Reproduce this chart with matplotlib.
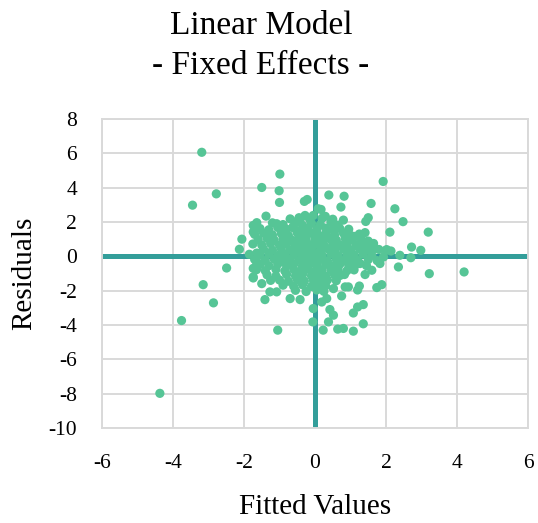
import matplotlib.pyplot as plt
import numpy as np

plt.rcParams['font.family'] = ['Liberation Serif', 'DejaVu Serif']

# scattered points away from the central cluster
fitted = [
    -4.37, -3.76, -3.19, -2.78, -3.45, -3.15, -2.86, -2.49, -2.13, -2.06,
    -1.74, -1.64, -1.50, -0.99, -1.01, -1.00, -1.38, -1.08, -0.30, -0.22,
    -1.74, -1.50, -1.25, -1.41, -1.27, -1.08, -0.70, -0.42, -0.05, -0.06,
    -1.05, -1.74, -1.74, -1.64, -1.64, -1.74,
    1.92, 0.39, 0.82, 0.73, 1.58, 2.25, 0.17, 0.80, 1.50, 1.43,
    2.48, 2.11, 3.19, 1.41, 1.11, 1.50, 1.46, 2.72, 2.98, 1.67,
    2.02, 2.14, 2.39, 2.70, 2.35, 3.22, 4.20, 1.88, 1.74, 1.25,
    1.20, 0.94, 0.85, 0.52, 0.75, 1.36, 1.20, 1.08, 1.36, 1.08,
    0.80, 0.64, 0.23, 0.38, 0.52, 0.42, 0.33, 0.19, 1.41, 1.60,
    1.27, 0.83, 1.83, 1.93, 2.00, -0.28, -0.42, 0.09, -0.62, -0.05,
    0.29,
]
residuals = [
    -7.98, -3.74, 6.06, 3.64, 2.98, -1.65, -2.71, -0.68, 0.41, 1.00,
    1.80, 0.19, 4.01, 4.79, 3.82, 3.14, 2.34, 1.90, 3.20, 3.31,
    -1.26, -1.59, -1.40, -2.52, -2.07, -2.07, -2.46, -2.52, -3.04, -3.82,
    -4.30, -0.70, -1.20, -0.37, 1.96, 1.42,
    4.36, 3.57, 3.50, 2.87, 3.08, 2.77, 2.73, 2.11, 2.25, 2.03,
    2.02, 1.41, 1.41, 1.38, 1.16, 0.89, 0.68, 0.54, 0.35, 0.45,
    0.39, 0.31, 0.06, -0.08, -0.62, -1.01, -0.91, -1.65, -1.82, -1.73,
    -1.96, -1.78, -1.78, -1.88, -2.31, -2.81, -2.95, -3.30, -3.93, -4.36,
    -4.20, -4.24, -4.30, -3.82, -3.43, -3.10, -2.46, -2.66, -1.06, -0.81,
    -0.42, -1.06, -0.42, -0.04, 0.35, 2.38, 2.09, 2.77, 1.72, 2.38,
    2.33,
]

# central cluster, row by row
fitted += [
    -0.70, -0.45, -0.15, 0.20, 0.50,
    -1.20, -0.90, -0.55, -0.35, -0.10, 0.15, 0.45, 0.65,
    -1.55, -1.30, -1.05, -0.80, -0.60, -0.40, -0.20, 0.05, 0.30, 0.50, 0.70, 0.95,
    -1.70, -1.45, -1.20, -0.95, -0.75, -0.50, -0.30, -0.10, 0.10, 0.30, 0.55, 0.80, 1.00, 1.25,
    -1.60, -1.35, -1.15, -0.90, -0.65, -0.45, -0.25, 0.00, 0.20, 0.40, 0.60, 0.85, 1.05, 1.30,
    -1.75, -1.50, -1.25, -1.00, -0.80, -0.55, -0.35, -0.15, 0.05, 0.25, 0.50, 0.70, 0.90, 1.15, 1.35, 1.65,
    -1.45, -1.20, -0.95, -0.70, -0.50, -0.30, -0.10, 0.15, 0.35, 0.55, 0.80, 1.00, 1.25, 1.45, 1.80,
    -1.85, -1.55, -1.30, -1.05, -0.85, -0.60, -0.40, -0.20, 0.00, 0.20, 0.45, 0.65, 0.90, 1.10, 1.35, 1.60,
    -1.70, -1.40, -1.15, -0.90, -0.70, -0.45, -0.25, -0.05, 0.15, 0.35, 0.60, 0.80, 1.00, 1.20, 1.50, 1.75,
    -1.55, -1.30, -1.05, -0.80, -0.60, -0.35, -0.15, 0.05, 0.30, 0.50, 0.70, 0.95, 1.15, 1.45,
    -1.65, -1.40, -1.10, -0.85, -0.60, -0.40, -0.20, 0.00, 0.20, 0.45, 0.65, 0.90, 1.10,
    -1.35, -1.10, -0.80, -0.55, -0.35, -0.10, 0.10, 0.30, 0.55, 0.70,
    -1.00, -0.75, -0.50, -0.30, -0.05, 0.15, 0.35, 0.60,
    -0.90, -0.60, -0.35, -0.10, 0.10, 0.30,
    -0.55, -0.25, 0.05, 0.25,
]
residuals += [
    2.18, 2.25, 2.15, 2.22, 2.16,
    1.95, 1.85, 2.00, 1.80, 1.92, 1.85, 1.98, 1.82,
    1.62, 1.55, 1.68, 1.58, 1.65, 1.52, 1.66, 1.57, 1.64, 1.55, 1.62, 1.58,
    1.28, 1.35, 1.25, 1.33, 1.22, 1.36, 1.27, 1.34, 1.24, 1.32, 1.26, 1.35, 1.22, 1.30,
    0.98, 1.05, 0.95, 1.02, 0.94, 1.06, 0.97, 1.04, 0.96, 1.03, 0.95, 1.05, 0.98, 1.02,
    0.72, 0.66, 0.74, 0.65, 0.73, 0.67, 0.75, 0.68, 0.72, 0.65, 0.74, 0.66, 0.73, 0.68, 0.70, 0.75,
    0.42, 0.36, 0.44, 0.38, 0.45, 0.35, 0.43, 0.37, 0.45, 0.36, 0.42, 0.38, 0.44, 0.35, 0.40,
    0.12, 0.06, 0.14, 0.05, 0.13, 0.07, 0.15, 0.04, 0.11, 0.06, 0.14, 0.05, 0.12, 0.08, 0.13, 0.06,
    -0.18, -0.24, -0.16, -0.25, -0.17, -0.23, -0.15, -0.22, -0.18, -0.26, -0.17, -0.24, -0.16, -0.22, -0.19, -0.25,
    -0.48, -0.55, -0.46, -0.54, -0.47, -0.56, -0.45, -0.53, -0.47, -0.55, -0.46, -0.52, -0.48, -0.54,
    -0.78, -0.84, -0.76, -0.85, -0.77, -0.83, -0.75, -0.86, -0.78, -0.82, -0.76, -0.84, -0.79,
    -1.08, -1.15, -1.06, -1.14, -1.05, -1.13, -1.07, -1.15, -1.08, -1.12,
    -1.38, -1.45, -1.36, -1.44, -1.37, -1.46, -1.38, -1.42,
    -1.68, -1.74, -1.66, -1.75, -1.67, -1.72,
    -1.98, -2.05, -1.96, -2.04,
]

x_ticks = np.arange(-6, 7, 2)
y_ticks = np.arange(-10, 9, 2)

grid_color = '#d9d9d9'
axis_color = '#339e9a'
point_color = '#56c596'

fig = plt.figure(figsize=(5.38, 5.23), dpi=100)
ax = fig.add_axes([0.1896, 0.1816, 0.7918, 0.5909])

ax.axhline(0, color=axis_color, lw=3.6, zorder=2)
ax.axvline(0, color=axis_color, lw=3.6, zorder=2)
ax.scatter(fitted, residuals, s=44, color=point_color, edgecolors='none', zorder=3)

ax.set_xlim(-6, 6)
ax.set_ylim(-10, 8)
ax.set_xticks(x_ticks)
ax.set_yticks(y_ticks)
ax.set_xticklabels([str(v) for v in x_ticks])
ax.set_yticklabels([str(v) for v in y_ticks])
ax.grid(True, color=grid_color, lw=1.4, zorder=0)
ax.set_axisbelow(True)
for sp in ax.spines.values():
    sp.set_color(grid_color)
    sp.set_linewidth(1.4)
ax.tick_params(length=0, labelsize=15.5, colors='black')
ax.tick_params(axis='y', pad=18)
ax.tick_params(axis='x', pad=19)

ax.set_xlabel('Fitted Values', fontsize=21, labelpad=15)
ax.set_ylabel('Residuals', fontsize=21, labelpad=8)
fig.text(0.485, 0.98, 'Linear Model\n- Fixed Effects -', ha='center', va='top',
         fontsize=24, linespacing=1.4)

fig.savefig('out.png', dpi=100)
